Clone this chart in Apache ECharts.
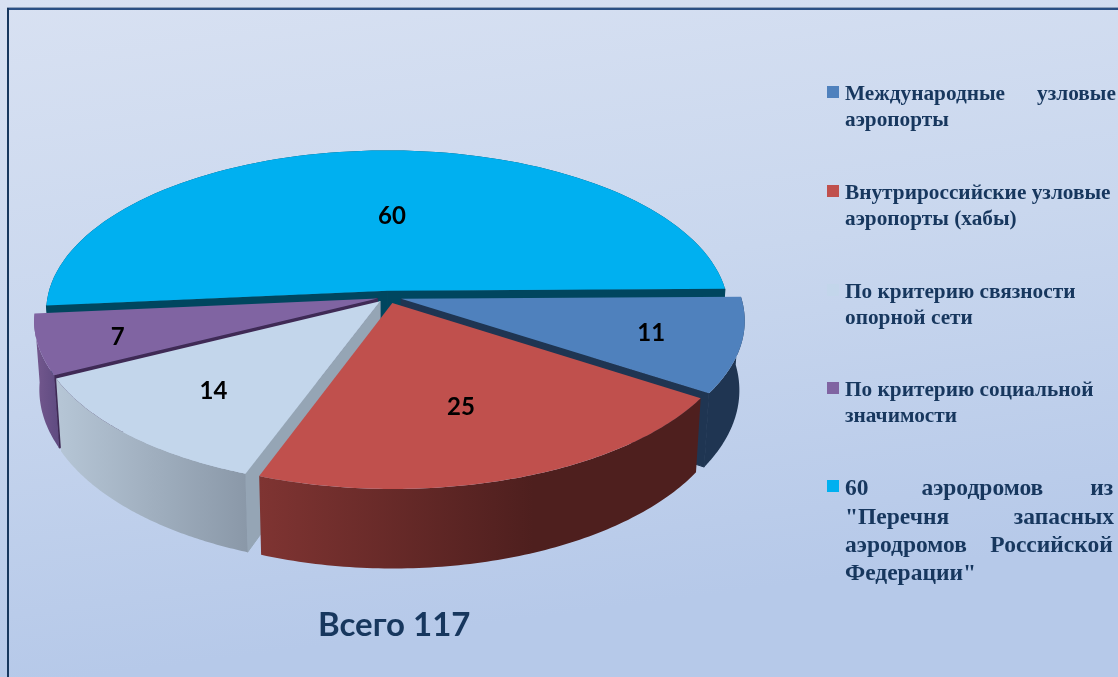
<!DOCTYPE html>
<html><head><meta charset="utf-8">
<style>html,body{margin:0;padding:0;background:#c8d6ee}#c{width:1118px;height:677px}</style>
<script src="https://cdn.jsdelivr.net/npm/echarts@6/dist/echarts.min.js"></script>
</head><body><div id="c"></div>
<script>
const categories = ['Международные узловые аэропорты','Внутрироссийские узловые аэропорты (хабы)','По критерию связности опорной сети','По критерию социальной значимости','60 аэродромов из "Перечня запасных аэродромов Российской Федерации"'];
const values = [11, 25, 14, 7, 60];
const legendTexts = [
  'Международные      узловые\nаэропорты',
  'Внутрироссийские узловые\nаэропорты (хабы)',
  'По критерию связности\nопорной сети',
  'По критерию социальной\nзначимости',
  '60         аэродромов        из\n"Перечня           запасных\nаэродромов    Российской\nФедерации"'
];
const totalLabel = 'Всего 117';

const topColors  = ['#4f81bd','#c0504d','#c3d6eb','#8064a2','#00b0f0'];
const faceColors = ['#1f3552','#4f201f','#95a5b5','#3f2a55','#00465f'];
const wallStops  = [['#1f3552','#1f3552'],['#7f3432','#4e1f1e'],['#b6c6d6','#8a98a8'],['#75598f','#5e4a80'],['#00465f','#00465f']];
const wallEnd    = [1,0.62,1,1,1];
const explode    = [0.04,0.04,0.035,0.032,0.04];
const labelR     = [0.70,0.62,0.68,0.78,0.50];
const labelDx    = [15,-4,-1,3,13];
const labelDy    = [2,1,2,3,0];
const drawOrder  = [4,3,0,2,1];
const legendY    = [82,181,280,378,475];
const legendFont = [21.3,21.3,21.3,21.3,23.5];
const legendLine = [25.5,25.5,25.5,25.5,28.3];
const swatchY    = [86,185,284,382,480];

const CX=388, CY=297, RX=340, RY=160, K=0.13, START=-0.012;
const total = values.reduce((a,b)=>a+b,0);
const starts = []; values.reduce((s,v,i)=>{starts[i]=s;return s+v/total*Math.PI*2;},START);

function proj(X,Y,low){
  const w=1-K*Y, x=RX*X/w, y=RY*Y/w;
  return low ? [CX+x*0.985, CY+y*1.06+68] : [CX+x, CY+y];
}
function renderItem(params, api){
  const i = drawOrder[params.dataIndex];
  const a0 = starts[i], a1 = a0 + api.value(0)/total*Math.PI*2, mid=(a0+a1)/2;
  const ox = explode[i]*Math.cos(mid), oy = explode[i]*Math.sin(mid);
  const pt = (a,r,low)=>proj(ox+r*Math.cos(a), oy+r*Math.sin(a), low);
  const n = 90, top=[], bot=[];
  for(let s=0;s<=n;s++){ const a=a0+(a1-a0)*s/n; top.push(pt(a,1,false)); bot.push(pt(a,1,true)); }
  const apexT = pt(0,0,false), apexB = pt(0,0,true);
  const kids = [];
  const face = (a)=>kids.push({type:'polygon',shape:{points:[apexT,pt(a,1,false),pt(a,1,true),apexB]},style:{fill:faceColors[i],stroke:faceColors[i],lineWidth:1},silent:true});
  if(-Math.cos(a0) > 0) face(a0);
  if(Math.cos(a1) > 0) face(a1);
  kids.push({type:'polygon',shape:{points:top.concat(bot.slice().reverse())},silent:true,
    style:{fill:new echarts.graphic.LinearGradient(0,0,1,0,[{offset:0,color:wallStops[i][0]},{offset:wallEnd[i],color:wallStops[i][1]},{offset:1,color:wallStops[i][1]}])}});
  kids.push({type:'polygon',shape:{points:[apexT].concat(top)},style:{fill:topColors[i]},silent:true});
  const lp = proj(ox+labelR[i]*Math.cos(mid), oy+labelR[i]*Math.sin(mid), false);
  kids.push({type:'text',z2:50,silent:true,style:{text:String(api.value(0)),x:lp[0]+labelDx[i],y:lp[1]+labelDy[i],align:'center',verticalAlign:'middle',
    font:'bold 24px Lato, "Open Sans", sans-serif',fill:'#000'}});
  return {type:'group',children:kids};
}

const legendGraphic = [];
categories.forEach((c,i)=>{
  legendGraphic.push({type:'rect',silent:true,shape:{x:827,y:swatchY[i],width:12,height:12},style:{fill:topColors[i]}});
  legendGraphic.push({type:'text',silent:true,style:{x:845,y:legendY[i],text:legendTexts[i],fill:'#17375e',
    font:'bold '+legendFont[i]+'px "Liberation Serif", serif',lineHeight:legendLine[i],align:'left',verticalAlign:'top'}});
});
const frame = [
  {type:'rect',silent:true,shape:{x:7,y:7,width:1111,height:1.2},style:{fill:'#8da0bb'}},
  {type:'rect',silent:true,shape:{x:7,y:8,width:1111,height:2},style:{fill:'#2a4f84'}},
  {type:'rect',silent:true,shape:{x:7,y:8,width:2,height:669},style:{fill:'#17375e'}}
];

const chart = echarts.init(document.getElementById('c'));
chart.setOption({
  animation:false,
  backgroundColor:new echarts.graphic.LinearGradient(0,0,0.08,1,[{offset:0,color:'#d8e1f2'},{offset:0.5,color:'#c9d7ee'},{offset:1,color:'#b6c9e9'}]),
  title:{text:totalLabel,left:318,top:609,textStyle:{fontFamily:'Lato, "Open Sans", sans-serif',fontWeight:'bold',fontSize:33,color:'#17375e'},padding:0},
  tooltip:{show:false},
  graphic:frame.concat(legendGraphic),
  series:[{type:'custom',coordinateSystem:'none',renderItem,clip:false,
    data:drawOrder.map(i=>({name:categories[i],value:values[i]}))}]
});
</script></body></html>
